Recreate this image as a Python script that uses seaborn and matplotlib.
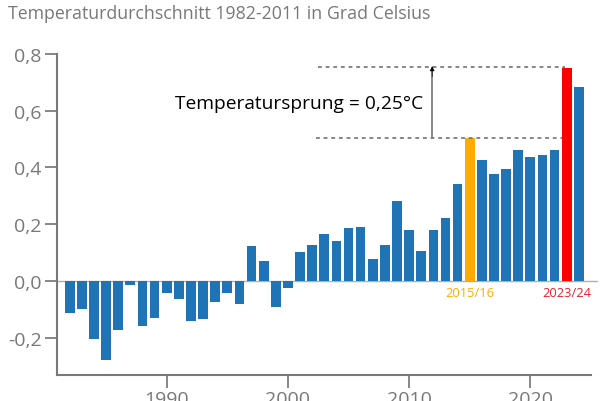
import pandas as pd
import seaborn as sns
import matplotlib.pyplot as plt

years = list(range(1982, 2025))
anomaly = [-0.112, -0.101, -0.205, -0.28, -0.174, -0.015, -0.158, -0.131, -0.044, -0.065,
           -0.141, -0.133, -0.076, -0.044, -0.082, 0.122, 0.069, -0.092, -0.026, 0.102,
           0.127, 0.166, 0.14, 0.185, 0.189, 0.076, 0.127, 0.28, 0.181, 0.106,
           0.179, 0.222, 0.343, 0.504, 0.426, 0.376, 0.395, 0.463, 0.436, 0.443,
           0.461, 0.752, 0.684]
y_ticks = [-0.2, 0.0, 0.2, 0.4, 0.6, 0.8]
y_labels = ['-0,2', '0,0', '0,2', '0,4', '0,6', '0,8']
x_ticks = [1990, 2000, 2010, 2020]

GREY = '#787878'
colors = {'normal': '#1f74b5', 'old': '#ffab00', 'new': '#ff0000'}

sns.set_style('white')
plt.rcParams['font.family'] = ['Open Sans', 'DejaVu Sans']

df = pd.DataFrame({'year': years, 'anomaly': anomaly})
df['group'] = 'normal'
df.loc[df['year'] == 2015, 'group'] = 'old'
df.loc[df['year'] == 2023, 'group'] = 'new'

fig = plt.figure(figsize=(6.06, 4.02), dpi=100)
ax = fig.add_axes([57 / 606, 1 - 375.7 / 402, (590.7 - 57) / 606, (375.7 - 55) / 402])

sns.barplot(data=df, x='year', y='anomaly', hue='group', palette=colors, dodge=False,
            native_scale=True, width=0.8, saturation=1, linewidth=0, legend=False,
            ax=ax, zorder=2)

ax.set_xlim(1980.95, 2024.98)
ax.set_ylim(-0.331, 0.8)
ax.set_xlabel('')
ax.set_ylabel('')
ax.set_xticks(x_ticks)
ax.set_yticks(y_ticks)
ax.set_yticklabels(y_labels)
ax.tick_params(axis='both', direction='out', length=9, width=1.1, color='#666666',
               labelcolor=GREY, labelsize=14, left=True, bottom=True, pad=2)

sns.despine(ax=ax)
for side in ['left', 'bottom']:
    ax.spines[side].set_color(GREY)
    ax.spines[side].set_linewidth(1.5)

# zero line runs a bit past the axis end
ax.plot([1980.95, 2025.5], [0, 0], color='#b0b0b0', lw=1, clip_on=False, zorder=1)

# dashed levels and the arrow between them
ax.plot([2002.3, 2022.6], [0.504, 0.504], color='#666666', lw=1.1, ls=(0, (2.5, 2.5)))
ax.plot([2002.5, 2022.9], [0.755, 0.755], color='#666666', lw=1.1, ls=(0, (2.5, 2.5)))
ax.plot([2011.9, 2011.9], [0.504, 0.74], color='#808080', lw=1.3)
ax.annotate('', xy=(2011.9, 0.757), xytext=(2011.9, 0.72),
            arrowprops=dict(arrowstyle='-|>', color='black', lw=0.5, shrinkA=0, shrinkB=0,
                            mutation_scale=7))

ax.text(1990.7, 0.627, 'Temperatursprung = 0,25°C', fontsize=13.8, color='black', va='center')
ax.text(2015.0, -0.04, '2015/16', fontsize=9.3, color=colors['old'], ha='center', va='center')
ax.text(2023.0, -0.04, '2023/24', fontsize=9.3, color='#e8202a', ha='center', va='center')

fig.text(8 / 606, 1 - 14 / 402, 'Temperaturdurchschnitt 1982-2011 in Grad Celsius',
         fontsize=12.8, color=GREY, va='center')

fig.savefig('out.png', dpi=100)
